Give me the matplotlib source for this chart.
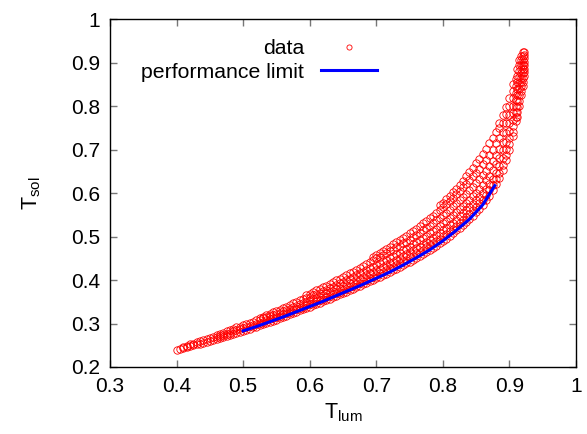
import matplotlib
matplotlib.use("Agg")
import matplotlib.pyplot as plt
from matplotlib.ticker import FormatStrFormatter

plt.rcParams['font.family'] = ['Liberation Sans', 'DejaVu Sans']
plt.rcParams['mathtext.fontset'] = 'custom'
plt.rcParams['mathtext.rm'] = 'Liberation Sans'

col_x = [0.400, 0.405, 0.410, 0.415, 0.420, 0.425, 0.430, 0.435, 0.440, 0.445,
         0.450, 0.455, 0.460, 0.465, 0.470, 0.475, 0.480, 0.485, 0.490, 0.495,
         0.500, 0.505, 0.510, 0.515, 0.520, 0.525, 0.530, 0.535, 0.540, 0.545,
         0.550, 0.555, 0.560, 0.565, 0.570, 0.575, 0.580, 0.585, 0.590, 0.595,
         0.600, 0.605, 0.610, 0.615, 0.620, 0.625, 0.630, 0.635, 0.640, 0.645,
         0.650, 0.655, 0.660, 0.665, 0.670, 0.675, 0.680, 0.685, 0.690, 0.695,
         0.700, 0.705, 0.710, 0.715, 0.720, 0.725, 0.730, 0.735, 0.740, 0.745,
         0.750, 0.755, 0.760, 0.765, 0.770, 0.775, 0.780, 0.785, 0.790, 0.795,
         0.800, 0.805, 0.810, 0.815, 0.820, 0.825, 0.830, 0.835, 0.840, 0.845,
         0.850, 0.855, 0.860, 0.865, 0.870, 0.875, 0.880, 0.885, 0.890, 0.895,
         0.900, 0.905, 0.910, 0.912, 0.915, 0.918, 0.920, 0.922]
col_y = [
    [0.240],
    [0.242],
    [0.244, 0.247],
    [0.246, 0.249],
    [0.248, 0.252],
    [0.250, 0.254],
    [0.252, 0.257],
    [0.254, 0.259],
    [0.256, 0.262],
    [0.258, 0.264],
    [0.260, 0.267],
    [0.262, 0.268],
    [0.264, 0.270, 0.273],
    [0.267, 0.272, 0.276],
    [0.269, 0.274, 0.279],
    [0.271, 0.277, 0.282],
    [0.274, 0.279, 0.285],
    [0.276, 0.282, 0.288],
    [0.278, 0.284, 0.291],
    [0.281, 0.287, 0.293],
    [0.283, 0.289, 0.296],
    [0.286, 0.292, 0.299],
    [0.288, 0.294, 0.302],
    [0.291, 0.297, 0.304],
    [0.293, 0.299, 0.307],
    [0.296, 0.302, 0.309, 0.313],
    [0.298, 0.304, 0.312, 0.315],
    [0.301, 0.307, 0.314, 0.319],
    [0.304, 0.310, 0.317, 0.322],
    [0.306, 0.312, 0.320, 0.326],
    [0.309, 0.315, 0.322, 0.329],
    [0.312, 0.318, 0.325, 0.332],
    [0.315, 0.321, 0.328, 0.336],
    [0.318, 0.324, 0.331, 0.339],
    [0.321, 0.327, 0.334, 0.343],
    [0.324, 0.330, 0.337, 0.346],
    [0.327, 0.333, 0.341, 0.350],
    [0.330, 0.336, 0.344, 0.353],
    [0.333, 0.339, 0.347, 0.357],
    [0.336, 0.342, 0.350, 0.359, 0.365],
    [0.339, 0.345, 0.353, 0.362, 0.368],
    [0.342, 0.348, 0.356, 0.365, 0.372],
    [0.345, 0.351, 0.359, 0.368, 0.376],
    [0.348, 0.354, 0.362, 0.371, 0.379],
    [0.351, 0.357, 0.366, 0.375, 0.383],
    [0.354, 0.360, 0.369, 0.378, 0.387],
    [0.357, 0.364, 0.372, 0.382, 0.391],
    [0.360, 0.367, 0.375, 0.385, 0.395],
    [0.364, 0.370, 0.379, 0.389, 0.399],
    [0.367, 0.373, 0.382, 0.392, 0.403],
    [0.370, 0.377, 0.386, 0.396, 0.407],
    [0.373, 0.380, 0.389, 0.399, 0.411],
    [0.377, 0.384, 0.393, 0.403, 0.415],
    [0.380, 0.387, 0.396, 0.407, 0.419],
    [0.383, 0.391, 0.400, 0.411, 0.424],
    [0.386, 0.394, 0.403, 0.415, 0.428],
    [0.390, 0.398, 0.407, 0.419, 0.433],
    [0.393, 0.401, 0.411, 0.423, 0.437],
    [0.397, 0.405, 0.415, 0.427, 0.442],
    [0.400, 0.408, 0.418, 0.431, 0.446, 0.454],
    [0.404, 0.412, 0.422, 0.435, 0.450, 0.458],
    [0.407, 0.415, 0.426, 0.439, 0.454, 0.462],
    [0.411, 0.419, 0.430, 0.443, 0.458, 0.467],
    [0.414, 0.423, 0.434, 0.447, 0.462, 0.472],
    [0.418, 0.427, 0.438, 0.451, 0.466, 0.477],
    [0.422, 0.431, 0.442, 0.455, 0.470, 0.482],
    [0.426, 0.435, 0.446, 0.459, 0.475, 0.487],
    [0.430, 0.439, 0.450, 0.463, 0.479, 0.492],
    [0.434, 0.443, 0.455, 0.468, 0.484, 0.497],
    [0.438, 0.447, 0.459, 0.472, 0.488, 0.502],
    [0.442, 0.452, 0.464, 0.477, 0.493, 0.507],
    [0.446, 0.456, 0.468, 0.482, 0.498, 0.512],
    [0.451, 0.461, 0.473, 0.487, 0.503, 0.518],
    [0.455, 0.465, 0.477, 0.492, 0.508, 0.524],
    [0.460, 0.470, 0.482, 0.497, 0.514, 0.530],
    [0.464, 0.475, 0.487, 0.502, 0.519, 0.536],
    [0.469, 0.480, 0.492, 0.507, 0.525, 0.542],
    [0.474, 0.485, 0.497, 0.512, 0.531, 0.548],
    [0.479, 0.490, 0.503, 0.518, 0.537, 0.555],
    [0.484, 0.495, 0.508, 0.524, 0.543, 0.561, 0.572],
    [0.490, 0.501, 0.514, 0.530, 0.549, 0.568, 0.578],
    [0.495, 0.506, 0.520, 0.536, 0.555, 0.575, 0.586],
    [0.501, 0.512, 0.526, 0.542, 0.562, 0.582, 0.594],
    [0.507, 0.518, 0.532, 0.549, 0.569, 0.589, 0.602],
    [0.514, 0.525, 0.539, 0.556, 0.576, 0.597, 0.610],
    [0.520, 0.531, 0.546, 0.563, 0.583, 0.605, 0.619],
    [0.527, 0.538, 0.553, 0.570, 0.591, 0.613, 0.628],
    [0.533, 0.545, 0.560, 0.577, 0.598, 0.621, 0.638],
    [0.540, 0.552, 0.567, 0.585, 0.606, 0.629, 0.648],
    [0.548, 0.560, 0.575, 0.593, 0.614, 0.638, 0.658],
    [0.556, 0.568, 0.583, 0.601, 0.623, 0.647, 0.668],
    [0.564, 0.576, 0.591, 0.610, 0.632, 0.656, 0.679],
    [0.573, 0.585, 0.600, 0.619, 0.641, 0.666, 0.690],
    [0.583, 0.595, 0.610, 0.629, 0.651, 0.677, 0.702],
    [0.594, 0.606, 0.621, 0.640, 0.662, 0.688, 0.714],
    [0.606, 0.618, 0.633, 0.652, 0.674, 0.700, 0.727],
    [0.620, 0.632, 0.647, 0.666, 0.688, 0.714, 0.740],
    [0.635, 0.647, 0.662, 0.681, 0.702, 0.726, 0.750, 0.762],
    [0.652, 0.665, 0.680, 0.698, 0.718, 0.740, 0.762, 0.780],
    [0.675, 0.687, 0.701, 0.718, 0.738, 0.760, 0.782, 0.798],
    [0.700, 0.712, 0.726, 0.742, 0.760, 0.780, 0.800, 0.818],
    [0.730, 0.741, 0.754, 0.768, 0.784, 0.801, 0.818, 0.835, 0.850],
    [0.765, 0.775, 0.787, 0.800, 0.814, 0.830, 0.846, 0.862],
    [0.775, 0.786, 0.798, 0.811, 0.825, 0.840, 0.855, 0.870, 0.885],
    [0.800, 0.812, 0.825, 0.838, 0.852, 0.866, 0.880, 0.895, 0.905],
    [0.825, 0.835, 0.845, 0.855, 0.865, 0.875, 0.885, 0.895, 0.905, 0.915],
    [0.845, 0.855, 0.865, 0.875, 0.885, 0.895, 0.905, 0.915, 0.925],
    [0.870, 0.878, 0.886, 0.894, 0.902, 0.910, 0.918, 0.925],
]

# performance limit curve
perf_x = [0.50, 0.52, 0.54, 0.56, 0.58, 0.60, 0.62, 0.64, 0.66, 0.68,
          0.70, 0.72, 0.74, 0.76, 0.78, 0.80, 0.82, 0.84, 0.86, 0.878]
perf_y = [0.283, 0.293, 0.304, 0.315, 0.327, 0.339, 0.351, 0.364, 0.377, 0.390,
          0.404, 0.418, 0.434, 0.451, 0.469, 0.490, 0.514, 0.540, 0.573, 0.617]

data_x = []
data_y = []
for x, ys in zip(col_x, col_y):
    for y in ys:
        data_x.append(x)
        data_y.append(y)

fig = plt.figure(figsize=(5.87, 4.34), dpi=100)
ax = fig.add_axes([110 / 587, 67 / 434, 466 / 587, 348 / 434])

ax.plot(data_x, data_y, 'o', ls='none', ms=5.3, mfc='none', mec='red', mew=0.6, label='data')
ax.plot(perf_x, perf_y, color='blue', lw=2.2, label='performance limit')

ax.set_xlim(0.3, 1.0)
ax.set_ylim(0.2, 1.0)
ax.set_xticks([0.3, 0.4, 0.5, 0.6, 0.7, 0.8, 0.9, 1.0])
ax.set_yticks([0.2, 0.3, 0.4, 0.5, 0.6, 0.7, 0.8, 0.9, 1.0])
ax.xaxis.set_major_formatter(FormatStrFormatter('%g'))
ax.yaxis.set_major_formatter(FormatStrFormatter('%g'))
ax.tick_params(direction='in', top=True, right=True, length=5, width=1,
               color='#777777', labelsize=15, pad=7)
for s in ax.spines.values():
    s.set_linewidth(1.0)

ax.set_xlabel(r'T$_{\rm lum}$', fontsize=15.5, labelpad=4)
ax.set_ylabel(r'T$_{\rm sol}$', fontsize=15.5, labelpad=20)

ax.legend(loc='upper right', bbox_to_anchor=(0.572, 0.942), frameon=False,
          markerfirst=False, fontsize=15.3, handlelength=2.6, borderpad=0,
          borderaxespad=0, labelspacing=0.22, markerscale=0.7, handletextpad=0.8)

fig.savefig('out.png', dpi=100)
